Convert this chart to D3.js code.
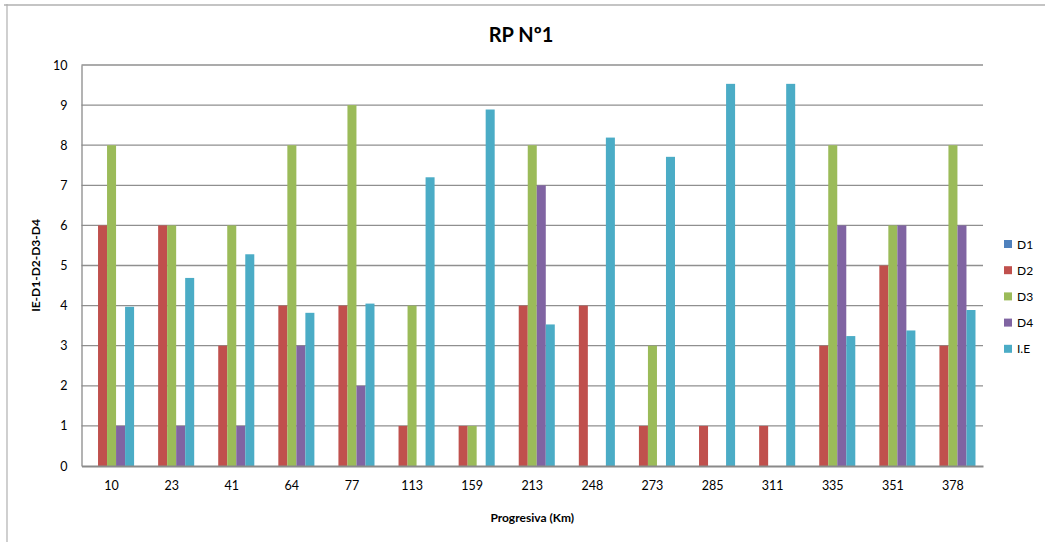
<!DOCTYPE html>
<html>
<head>
<meta charset="utf-8">
<script src="https://d3js.org/d3.v7.min.js"></script>
<style>
  html, body { margin: 0; padding: 0; background: #fff; }
  svg { display: block; }
  text { font-family: Lato, "Open Sans", "Liberation Sans", sans-serif; fill: #000; }
</style>
</head>
<body>
<svg id="chart" width="1045" height="542"></svg>
<script>
// Progresiva (Km) stations
const categories = ["10", "23", "41", "64", "77", "113", "159", "213", "248", "273", "285", "311", "335", "351", "378"];

// Series values per station
const seriesNames = ["D1", "D2", "D3", "D4", "I.E"];
const d1 = [0, 0, 0, 0, 0, 0, 0, 0, 0, 0, 0, 0, 0, 0, 0];
const d2 = [6, 6, 3, 4, 4, 1, 1, 4, 4, 1, 1, 1, 3, 5, 3];
const d3v = [8, 6, 6, 8, 9, 4, 1, 8, 0, 3, 0, 0, 8, 6, 8];
const d4 = [1, 1, 1, 3, 2, 0, 0, 7, 0, 0, 0, 0, 6, 6, 6];
const ie = [3.97, 4.69, 5.28, 3.82, 4.05, 7.2, 8.89, 3.53, 8.19, 7.71, 9.53, 9.53, 3.24, 3.38, 3.89];

const yTicks = [0, 1, 2, 3, 4, 5, 6, 7, 8, 9, 10];
const colors = ["#4F81BD", "#C0504D", "#9BBB59", "#8064A2", "#4BACC6"];

const seriesValues = [d1, d2, d3v, d4, ie];
const rows = categories.map((c, i) => ({
  cat: c,
  vals: seriesNames.map((s, k) => ({ key: s, value: seriesValues[k][i] }))
}));

const svg = d3.select("#chart");

// outer frame
svg.append("line").attr("x1", 4).attr("x2", 1045).attr("y1", 5).attr("y2", 5)
  .attr("stroke", "#c4c4c4").attr("stroke-width", 2);
svg.append("line").attr("x1", 7).attr("x2", 7).attr("y1", 4).attr("y2", 542)
  .attr("stroke", "#b0b0b0").attr("stroke-width", 1.2);

const plot = { left: 81.5, right: 983, top: 65, bottom: 466 };

const x0 = d3.scaleBand().domain(categories).range([plot.left, plot.right]).padding(0);
const groupPad = x0.bandwidth() * 0.125;
const x1 = d3.scaleBand().domain(seriesNames).range([groupPad, x0.bandwidth() - groupPad]).padding(0);
const y = d3.scaleLinear().domain([0, 10]).range([plot.bottom, plot.top]);
const color = d3.scaleOrdinal().domain(seriesNames).range(colors);

// horizontal gridlines
svg.append("g")
  .selectAll("line")
  .data(yTicks.filter(t => t > 0))
  .join("line")
  .attr("x1", plot.left).attr("x2", plot.right)
  .attr("y1", d => y(d)).attr("y2", d => y(d))
  .attr("stroke", "#8f8f8f").attr("stroke-width", 1.3);

// bars
const groups = svg.append("g")
  .selectAll("g")
  .data(rows)
  .join("g")
  .attr("transform", d => `translate(${x0(d.cat)},0)`);

groups.selectAll("rect")
  .data(d => d.vals.filter(v => v.value > 0))
  .join("rect")
  .attr("x", d => x1(d.key))
  .attr("width", x1.bandwidth())
  .attr("y", d => y(d.value))
  .attr("height", d => y(0) - y(d.value))
  .attr("fill", d => color(d.key));

// y axis
const yAxis = svg.append("g")
  .attr("transform", `translate(${plot.left},0)`)
  .call(d3.axisLeft(y).tickValues(yTicks).tickSize(0).tickPadding(14).tickFormat(d3.format("d")));
yAxis.select(".domain").attr("stroke", "#8a8a8a").attr("stroke-width", 1.3);
yAxis.selectAll("text").attr("font-size", 12.5).attr("fill", "#000")
  .style("font-family", "Lato, 'Open Sans', sans-serif");

// x axis
const xAxis = svg.append("g")
  .attr("transform", `translate(0,${plot.bottom})`)
  .call(d3.axisBottom(x0).tickSize(0).tickPadding(15));
xAxis.select(".domain").attr("stroke", "#8a8a8a").attr("stroke-width", 2.2);
xAxis.selectAll("text").attr("font-size", 12.5).attr("fill", "#000")
  .style("font-family", "Lato, 'Open Sans', sans-serif");

// titles
svg.append("text")
  .attr("x", 521).attr("y", 42)
  .attr("text-anchor", "middle")
  .attr("font-size", 20).attr("font-weight", "bold")
  .text("RP Nº1");

svg.append("text")
  .attr("x", (plot.left + plot.right) / 2).attr("y", 522)
  .attr("text-anchor", "middle")
  .attr("font-size", 12).attr("font-weight", "bold")
  .text("Progresiva (Km)");

svg.append("text")
  .attr("transform", `translate(40,${(plot.top + plot.bottom) / 2}) rotate(-90)`)
  .attr("text-anchor", "middle")
  .attr("font-size", 12).attr("font-weight", "bold")
  .text("IE-D1-D2-D3-D4");

// legend
const legend = svg.append("g")
  .selectAll("g")
  .data(seriesNames)
  .join("g")
  .attr("transform", (d, i) => `translate(1004,${244 + i * 26.2})`);
legend.append("rect")
  .attr("x", 0).attr("y", -4).attr("width", 8).attr("height", 8)
  .attr("fill", d => color(d));
legend.append("text")
  .attr("x", 13).attr("y", 4.5)
  .attr("font-size", 12)
  .text(d => d);
</script>
</body>
</html>
